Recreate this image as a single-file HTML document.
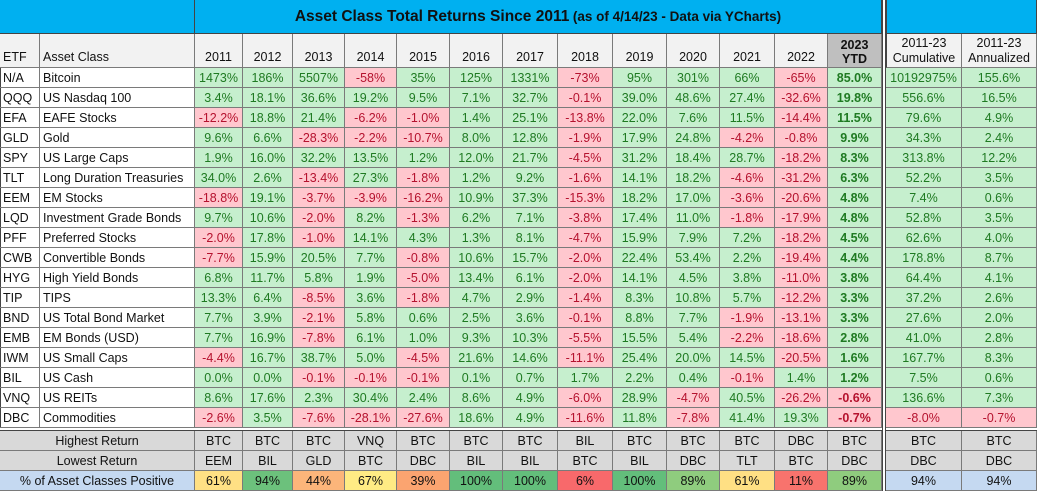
<!DOCTYPE html>
<html><head><meta charset="utf-8">
<style>
body{margin:0;background:#fff;width:1039px;height:492px;overflow:hidden;font-family:"Liberation Sans",Arial,sans-serif;}
#t{position:relative;width:1039px;height:492px;}
.c{position:absolute;box-sizing:border-box;border-right:1px solid #7a7a7a;border-bottom:1px solid #7a7a7a;font-size:12.5px;display:flex;align-items:center;justify-content:center;white-space:nowrap;overflow:hidden;}
.l{justify-content:flex-start;padding-left:3px;}
.g{background:#c6efce;color:#1f7a22;}
.r{background:#ffc7ce;color:#b5122e;}
.b{font-weight:bold;}
</style></head><body>
<div id="t"></div>
<script>
const etfs=["N/A","QQQ","EFA","GLD","SPY","TLT","EEM","LQD","PFF","CWB","HYG","TIP","BND","EMB","IWM","BIL","VNQ","DBC"];
const assetNames=["Bitcoin","US Nasdaq 100","EAFE Stocks","Gold","US Large Caps","Long Duration Treasuries","EM Stocks","Investment Grade Bonds","Preferred Stocks","Convertible Bonds","High Yield Bonds","TIPS","US Total Bond Market","EM Bonds (USD)","US Small Caps","US Cash","US REITs","Commodities"];
const years=["2011","2012","2013","2014","2015","2016","2017","2018","2019","2020","2021","2022"];
const returns=[
["1473%","186%","5507%","-58%","35%","125%","1331%","-73%","95%","301%","66%","-65%","85.0%","10192975%","155.6%"],
["3.4%","18.1%","36.6%","19.2%","9.5%","7.1%","32.7%","-0.1%","39.0%","48.6%","27.4%","-32.6%","19.8%","556.6%","16.5%"],
["-12.2%","18.8%","21.4%","-6.2%","-1.0%","1.4%","25.1%","-13.8%","22.0%","7.6%","11.5%","-14.4%","11.5%","79.6%","4.9%"],
["9.6%","6.6%","-28.3%","-2.2%","-10.7%","8.0%","12.8%","-1.9%","17.9%","24.8%","-4.2%","-0.8%","9.9%","34.3%","2.4%"],
["1.9%","16.0%","32.2%","13.5%","1.2%","12.0%","21.7%","-4.5%","31.2%","18.4%","28.7%","-18.2%","8.3%","313.8%","12.2%"],
["34.0%","2.6%","-13.4%","27.3%","-1.8%","1.2%","9.2%","-1.6%","14.1%","18.2%","-4.6%","-31.2%","6.3%","52.2%","3.5%"],
["-18.8%","19.1%","-3.7%","-3.9%","-16.2%","10.9%","37.3%","-15.3%","18.2%","17.0%","-3.6%","-20.6%","4.8%","7.4%","0.6%"],
["9.7%","10.6%","-2.0%","8.2%","-1.3%","6.2%","7.1%","-3.8%","17.4%","11.0%","-1.8%","-17.9%","4.8%","52.8%","3.5%"],
["-2.0%","17.8%","-1.0%","14.1%","4.3%","1.3%","8.1%","-4.7%","15.9%","7.9%","7.2%","-18.2%","4.5%","62.6%","4.0%"],
["-7.7%","15.9%","20.5%","7.7%","-0.8%","10.6%","15.7%","-2.0%","22.4%","53.4%","2.2%","-19.4%","4.4%","178.8%","8.7%"],
["6.8%","11.7%","5.8%","1.9%","-5.0%","13.4%","6.1%","-2.0%","14.1%","4.5%","3.8%","-11.0%","3.8%","64.4%","4.1%"],
["13.3%","6.4%","-8.5%","3.6%","-1.8%","4.7%","2.9%","-1.4%","8.3%","10.8%","5.7%","-12.2%","3.3%","37.2%","2.6%"],
["7.7%","3.9%","-2.1%","5.8%","0.6%","2.5%","3.6%","-0.1%","8.8%","7.7%","-1.9%","-13.1%","3.3%","27.6%","2.0%"],
["7.7%","16.9%","-7.8%","6.1%","1.0%","9.3%","10.3%","-5.5%","15.5%","5.4%","-2.2%","-18.6%","2.8%","41.0%","2.8%"],
["-4.4%","16.7%","38.7%","5.0%","-4.5%","21.6%","14.6%","-11.1%","25.4%","20.0%","14.5%","-20.5%","1.6%","167.7%","8.3%"],
["0.0%","0.0%","-0.1%","-0.1%","-0.1%","0.1%","0.7%","1.7%","2.2%","0.4%","-0.1%","1.4%","1.2%","7.5%","0.6%"],
["8.6%","17.6%","2.3%","30.4%","2.4%","8.6%","4.9%","-6.0%","28.9%","-4.7%","40.5%","-26.2%","-0.6%","136.6%","7.3%"],
["-2.6%","3.5%","-7.6%","-28.1%","-27.6%","18.6%","4.9%","-11.6%","11.8%","-7.8%","41.4%","19.3%","-0.7%","-8.0%","-0.7%"]];
const highest=["BTC","BTC","BTC","VNQ","BTC","BTC","BTC","BIL","BTC","BTC","BTC","DBC","BTC","BTC","BTC"];
const lowest=["EEM","BIL","GLD","BTC","DBC","BIL","BIL","BTC","BIL","DBC","TLT","BTC","DBC","DBC","DBC"];
const pctPositive=[61,94,44,67,39,100,100,6,100,89,61,11,89,94,94];

const T=document.getElementById('t');
const xs=[0,40,195,243,293,345,397,450,503,558,613,667,720,775,828,882,886,962,1037];
function cell(x,y,w,h,txt,cls,style,name){
  const d=document.createElement('div');
  d.className='c '+(cls||'');
  d.style.left=x+'px';d.style.top=y+'px';d.style.width=w+'px';d.style.height=h+'px';
  if(style)Object.assign(d.style,style);
  d.innerHTML=txt;
  
  
  T.appendChild(d);return d;
}
function colX(i){return i<13?xs[2+i]:xs[i+3];}
function colW(i){return i<13?xs[3+i]-xs[2+i]:xs[i+4]-xs[i+3];}
const f=document.createElement('div');
Object.assign(f.style,{position:'absolute',left:'0',top:'0',width:'1037px',height:'491px',borderTop:'1px solid #444',borderLeft:'1px solid #444',boxSizing:'border-box',pointerEvents:'none'});


T.appendChild(f);
const blue={background:'#00b0f0',borderRight:'1px solid #444',borderBottom:'1px solid #444'};
cell(0,0,195,34,'', '',blue,'title-blank-left');
cell(195,0,687,34,'<b style="font-size:15.5px">Asset Class Total Returns Since 2011</b>&nbsp;<b style="font-size:13.5px">(as of 4/14/23 - Data via YCharts)</b>','',Object.assign({color:'#111'},blue),'chart-title');
cell(886,0,151,34,'','',Object.assign({borderLeft:'1px solid #444'},blue),'title-blank-right');
const hs={background:'#f2f2f2',alignItems:'flex-end',paddingBottom:'3px',color:'#111'};
cell(0,34,40,34,'ETF','l',hs,'etf-header');
cell(40,34,155,34,'Asset Class','l',hs,'asset-class-header');
years.forEach((y,i)=>cell(colX(i),34,colW(i),34,y,'',hs,'year-header-'+y));
cell(colX(12),34,colW(12),34,'<div style="text-align:center;line-height:14px">2023<br>YTD</div>','b',Object.assign({},hs,{background:'#bfbfbf',paddingBottom:'1px'}),'ytd-header');
cell(colX(13),34,colW(13),34,'<div style="text-align:center;line-height:15px">2011-23<br>Cumulative</div>','',Object.assign({},hs,{paddingBottom:'1px',borderLeft:'1px solid #444'}),'cumulative-header');
cell(colX(14),34,colW(14),34,'<div style="text-align:center;line-height:15px">2011-23<br>Annualized</div>','',Object.assign({},hs,{paddingBottom:'1px'}),'annualized-header');
const gap=document.createElement('div');
Object.assign(gap.style,{position:'absolute',left:'882px',top:'0',width:'4px',height:'491px',background:'#fff',borderRight:'1px solid #444',borderLeft:'1px solid #444',boxSizing:'border-box',zIndex:2});


T.appendChild(gap);
etfs.forEach((e,r)=>{
  const y=68+r*20;
  cell(0,y,40,20,e,'l',{color:'#111'},'etf-'+e);
  cell(40,y,155,20,assetNames[r],'l',{color:'#111'},'asset-'+e);
  returns[r].forEach((v,i)=>{
    const neg=v.trim().startsWith('-');
    cell(colX(i),y,colW(i),20,v,(neg?'r':'g')+(i==12?' b':''),null,'return-'+e+'-'+i);
  });
});
const dl=document.createElement('div');
Object.assign(dl.style,{position:'absolute',left:'0',top:'428px',width:'1037px',height:'3px',borderBottom:'1px solid #444',background:'#fff',boxSizing:'border-box'});


T.appendChild(dl);
const gs={background:'#d9d9d9',color:'#111'};
cell(0,431,195,20,'Highest Return','',gs,'highest-return-label');
cell(0,451,195,20,'Lowest Return','',gs,'lowest-return-label');
cell(0,471,195,20,'% of Asset Classes Positive','',{background:'#c5d9f1',color:'#111'},'pct-positive-label');
function pc(p){
  if(p>=100)return'#63be7b';if(p>=94)return'#6cc17c';if(p>=89)return'#8fcc7e';
  if(p>=67)return'#ffeb84';if(p>=61)return'#ffe084';if(p>=44)return'#fcb57a';
  if(p>=39)return'#fba470';if(p>=11)return'#f8736d';return'#f8696b';}
highest.forEach((v,i)=>cell(colX(i),431,colW(i),20,v,'',gs,'highest-'+i));
lowest.forEach((v,i)=>cell(colX(i),451,colW(i),20,v,'',gs,'lowest-'+i));
pctPositive.forEach((v,i)=>cell(colX(i),471,colW(i),20,v+'%','',{background:i>=13?'#c5d9f1':pc(v),color:'#111'},'pct-positive-'+i));
</script>
</body></html>
